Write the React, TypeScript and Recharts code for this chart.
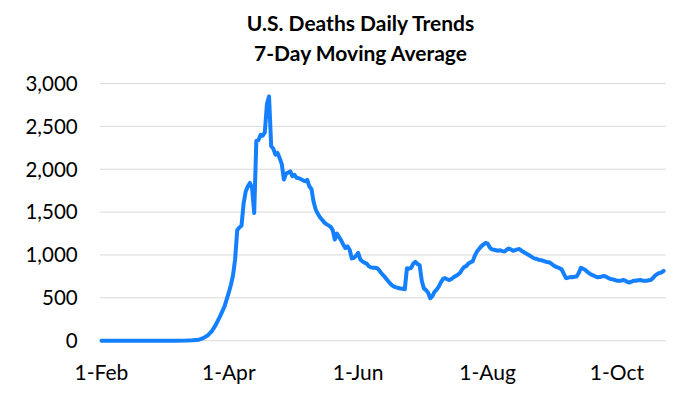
import React from "react";
import { LineChart, Line, XAxis, YAxis, CartesianGrid } from "recharts";

// Day index: 0 = 1-Feb (2020)
const days: number[] = [
  0, 7, 14, 21, 28, 35, 40, 43, 46, 48, 50, 52, 54, 56, 58, 59, 60, 61, 62, 63, 64, 65, 66, 67, 68, 69,
  70, 71, 72, 73, 74, 75, 76, 77, 78, 79, 80, 81, 82, 83, 84, 85, 86, 87, 88, 89, 90, 91, 92, 93, 94, 95,
  96, 97, 98, 99, 100, 101, 102, 103, 104, 105, 106, 107, 108, 109, 110, 111, 112, 113, 114, 115, 116,
  117, 118, 119, 120, 121, 122, 123, 124, 125, 126, 127, 128, 129, 130, 131, 132, 133, 134, 135, 136,
  137, 138, 139, 140, 141, 142, 143, 144, 145, 146, 147, 148, 149, 150, 151, 152, 153, 154, 155, 156,
  157, 158, 159, 160, 161, 162, 163, 164, 165, 166, 167, 168, 169, 170, 171, 172, 173, 174, 175, 176,
  177, 178, 179, 180, 181, 182, 183, 184, 185, 186, 187, 188, 189, 190, 191, 192, 193, 194, 195, 196,
  197, 198, 199, 200, 201, 202, 203, 204, 205, 206, 207, 208, 209, 210, 211, 212, 213, 214, 215, 216,
  217, 218, 219, 220, 221, 222, 223, 224, 225, 226, 227, 228, 229, 230, 231, 232, 233, 234, 235, 236,
  237, 238, 239, 240, 241, 242, 243, 244, 245, 246, 247, 248, 249, 250, 251, 252, 253, 254, 255, 256,
  257, 258, 259, 260, 261, 262, 263, 264, 265,
];

const deaths: number[] = [
  0, 0, 0, 0, 0, 0, 1, 4, 12, 30, 60, 110, 190, 290, 400, 480, 560, 650, 760, 950, 1290, 1320, 1340, 1600, 1740, 1800,
  1840, 1780, 1490, 2330, 2340, 2400, 2390, 2430, 2760, 2850, 2270, 2240, 2170, 2190, 2130, 2060, 1880, 1950, 1960, 1975, 1920, 1935, 1900, 1895, 1885, 1870,
  1860, 1875, 1800, 1770, 1620, 1530, 1480, 1440, 1410, 1380, 1360, 1345, 1330, 1290, 1180, 1250, 1210, 1170, 1120, 1080, 1100,
  1060, 960, 965, 990, 1025, 950, 925, 910, 900, 870, 855, 850, 850, 845, 820, 785, 760, 730, 700, 670,
  645, 630, 622, 615, 608, 605, 600, 845, 840, 850, 900, 920, 895, 880, 700, 610, 590, 560, 495, 520,
  570, 595, 630, 680, 720, 730, 715, 708, 720, 740, 755, 770, 790, 830, 860, 870, 900, 915, 925, 990,
  1040, 1070, 1100, 1120, 1140, 1135, 1090, 1065, 1060, 1055, 1050, 1055, 1045, 1040, 1060, 1075, 1065, 1050, 1055, 1065,
  1070, 1050, 1035, 1020, 1005, 990, 975, 960, 955, 945, 940, 935, 925, 918, 915, 900, 880, 865, 855, 845,
  830, 780, 730, 735, 742, 740, 745, 748, 790, 850, 840, 828, 805, 785, 770, 760, 748, 740, 742, 750,
  755, 745, 730, 720, 715, 708, 700, 698, 700, 708, 700, 685, 678, 690, 700, 700, 705, 708, 700, 698,
  700, 705, 708, 730, 760, 778, 790, 795, 815,
];

const xTickDays: number[] = [0, 60, 121, 182, 243];
const xTickLabels: string[] = ["1-Feb", "1-Apr", "1-Jun", "1-Aug", "1-Oct"];
const yTicks: number[] = [0, 500, 1000, 1500, 2000, 2500, 3000];
const titleLines: string[] = ["U.S. Deaths Daily Trends", "7-Day Moving Average"];

const data = days.map((d, i) => ({ day: d, value: deaths[i] }));

const FONT = "Lato, 'Open Sans', sans-serif";

export default function App() {
  return (
    <div style={{ position: "relative", width: 680, height: 384 }}>
      <LineChart
        width={680}
        height={384}
        data={data}
        margin={{ top: 75.5, right: 22.3, bottom: 21.3, left: 0 }}
      >
        <CartesianGrid vertical={false} stroke="#d9d9d9" strokeWidth={1} />
        <XAxis
          dataKey="day"
          type="number"
          domain={[-0.7, 266]}
          ticks={xTickDays}
          tickFormatter={(v: number) => xTickLabels[xTickDays.indexOf(v)] ?? ""}
          axisLine={false}
          tickLine={false}
          tickSize={6}
          tickMargin={18.5}
          height={30}
          interval={0}
          tick={{ fill: "#000", fontSize: 21, fontFamily: FONT }}
        />
        <YAxis
          type="number"
          domain={[0, 3000]}
          ticks={yTicks}
          tickFormatter={(v: number) => v.toLocaleString("en-US")}
          axisLine={false}
          tickLine={false}
          tickSize={6}
          tickMargin={16.3}
          width={92}
          interval={0}
          tick={{ fill: "#000", fontSize: 20.5, fontFamily: FONT }}
        />
        <Line
          type="linear"
          dataKey="value"
          stroke="#1580ff"
          strokeWidth={4}
          strokeLinejoin="round"
          strokeLinecap="round"
          dot={false}
          activeDot={false}
          isAnimationActive={false}
        />
      </LineChart>
      <svg
        width={680}
        height={70}
        style={{ position: "absolute", left: 0, top: 0, pointerEvents: "none" }}
      >
        <text x={352.5} y={22.7} textAnchor="middle" fontFamily={FONT} fontWeight="bold" fontSize={21} fill="#000">
          {titleLines[0]}
        </text>
        <text x={352.5} y={53} textAnchor="middle" fontFamily={FONT} fontWeight="bold" fontSize={21} fill="#000">
          {titleLines[1]}
        </text>
      </svg>
    </div>
  );
}
